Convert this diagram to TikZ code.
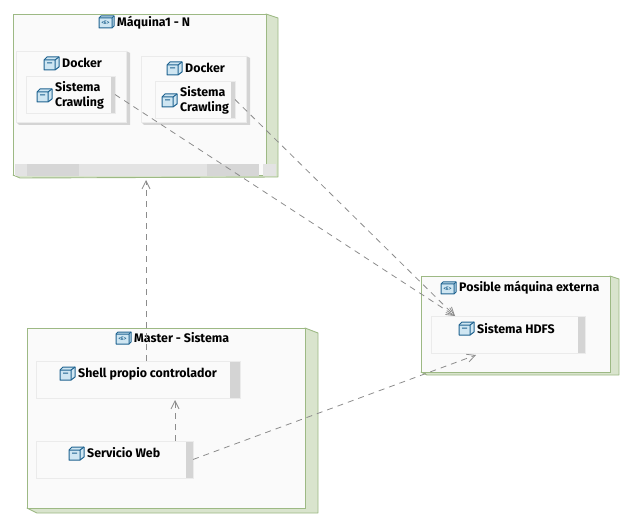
\documentclass[tikz,border=0pt]{standalone}
\usepackage{fontspec}
\setmainfont{Fira Sans}
\usetikzlibrary{arrows.meta}

\definecolor{nodeline}{HTML}{9DB984}
\definecolor{nodeside}{HTML}{D9E4CD}
\definecolor{nodeface}{HTML}{FAFAFA}
\definecolor{barfill}{HTML}{D4D4D4}
\definecolor{iconline}{HTML}{1F6390}
\definecolor{iconfill}{HTML}{CFE6F2}

\begin{document}
\begin{tikzpicture}
[
  x=1pt,
  y=-1pt,
  font=\bfseries\fontsize{12.4}{15}\selectfont,
  machine/.style={draw=nodeline,fill=nodeface,line width=0.9pt,rectangle,outer sep=0pt,inner sep=0pt},
  side/.style={draw=nodeline,fill=nodeside,line width=0.9pt,line join=round},
  shade3d/.style={fill=barfill},
  box/.style={draw=black!8,fill=nodeface,line width=0.7pt,rectangle,outer sep=0pt,inner sep=0pt,
    path picture={\fill[barfill] ([xshift=-#1]path picture bounding box.north east) rectangle (path picture bounding box.south east);}},
  label/.style={anchor=west,inner sep=0pt,align=left,text=black},
  dep/.style={draw=black!45,line width=0.8pt,dash pattern=on 6pt off 5pt,-{Straight Barb[length=8pt,width=8pt]}},
  cube/.pic={
    \draw[iconline,fill=iconfill,line width=1pt,line join=round] (0,3) -- (3,0) -- (15,0) -- (15,10) -- (11,13) -- (0,13) -- cycle;
    \draw[iconline,line width=1pt] (0,3) -- (11,3) -- (11,13) (11,3) -- (15,0) (3,6) -- (8,6);
  },
  exec/.pic={
    \draw[iconline,fill=iconfill,line width=1pt,line join=round] (0,2) -- (2,0) -- (15,0) -- (15,10) -- (13,12) -- (0,12) -- cycle;
    \draw[iconline,line width=1pt] (0,2) -- (13,2) -- (13,12) (13,2) -- (15,0);
    \node[inner sep=0pt,text=iconline,font=\bfseries\fontsize{5}{5}\selectfont] at (6.5,7) {<E>};
  }
]
\useasboundingbox (0,0) rectangle (631,526);

% Maquina1
\draw[side] (266,14) -- (278,18) -- (278,177) -- (20,178) -- (13,175) -- (266,175) -- cycle;
\node[machine,minimum width=253pt,minimum height=161pt] (maquina) at (139.5,94.5) {};
\fill[black!11] (15,164) rectangle (259,176);
\fill[black!11] (263,164) rectangle (276,176);
\fill[black!16] (27,164) rectangle (79,176);
\fill[black!16] (207,164) rectangle (259,176);
\pic at (99,16) {exec};
\node[label] (maquinatxt) at (117,23) {Máquina1 - N};

% Docker 1
\fill[shade3d] (126,51) -- (130,53) -- (130,125) -- (19,125) -- (16,122) -- (126,122) -- cycle;
\node[box=0pt,minimum width=110pt,minimum height=71pt] (dockerA) at (71,86.5) {};
\pic at (44,57) {cube};
\node[label] (dockerAtxt) at (62,63) {Docker};
\node[box=4pt,minimum width=89pt,minimum height=37pt] (crawlingA) at (70.5,94.5) {};
\pic at (37,89) {cube};
\node[label] (crawlingAtxt) at (55,95) {Sistema\\Crawling};

% Docker 2
\fill[shade3d] (246,56) -- (250,58) -- (250,125) -- (144,125) -- (141,122) -- (246,122) -- cycle;
\node[box=0pt,minimum width=105pt,minimum height=66pt] (dockerB) at (193.5,89) {};
\pic at (167,62) {cube};
\node[label] (dockerBtxt) at (185,68) {Docker};
\node[box=4pt,minimum width=80pt,minimum height=37pt] (crawlingB) at (195,99.5) {};
\pic at (162,94) {cube};
\node[label] (crawlingBtxt) at (180,100) {Sistema\\Crawling};

% Posible maquina externa
\draw[side] (610,276) -- (619,279) -- (619,375) -- (427,375) -- (421,372) -- (610,372) -- cycle;
\node[machine,minimum width=189pt,minimum height=96pt] (externa) at (515.5,324) {};
\pic at (441,282) {exec};
\node[label] (externatxt) at (459,288) {Posible máquina externa};
\node[box=7pt,minimum width=154pt,minimum height=37pt] (hdfs) at (508,334.5) {};
\pic at (459,322) {cube};
\node[label] (hdfstxt) at (477,328.5) {Sistema HDFS};

% Master
\draw[side] (305,328) -- (318,333) -- (318,513) -- (37,513) -- (27,508) -- (305,508) -- cycle;
\node[machine,minimum width=278pt,minimum height=180pt] (master) at (166,418) {};
\pic at (116,332) {exec};
\node[label] (mastertxt) at (134,338) {Master - Sistema};
\node[box=10pt,minimum width=204pt,minimum height=37pt] (shell) at (138,379.5) {};
\pic at (60,367) {cube};
\node[label] (shelltxt) at (78,373.5) {Shell propio controlador};
\node[box=7pt,minimum width=157pt,minimum height=37pt] (servicio) at (114.5,459.5) {};
\pic at (69,447) {cube};
\node[label] (serviciotxt) at (87,453) {Servicio Web};

\coordinate (hdfsin) at (455,316);
\coordinate (hdfsout) at (476,355);
\coordinate (maquinain) at (146,180);
\coordinate (shellin) at (175,400);

\draw[dep] (crawlingA.east) -- (hdfsin);
\draw[dep] (crawlingB.east) -- (hdfsin);
\draw[dep] (shell.north -| maquinain) -- (maquinain);
\draw[dep] (servicio.north -| shellin) -- (shellin);
\draw[dep] (servicio.east) -- (hdfsout);

\end{tikzpicture}
\end{document}
